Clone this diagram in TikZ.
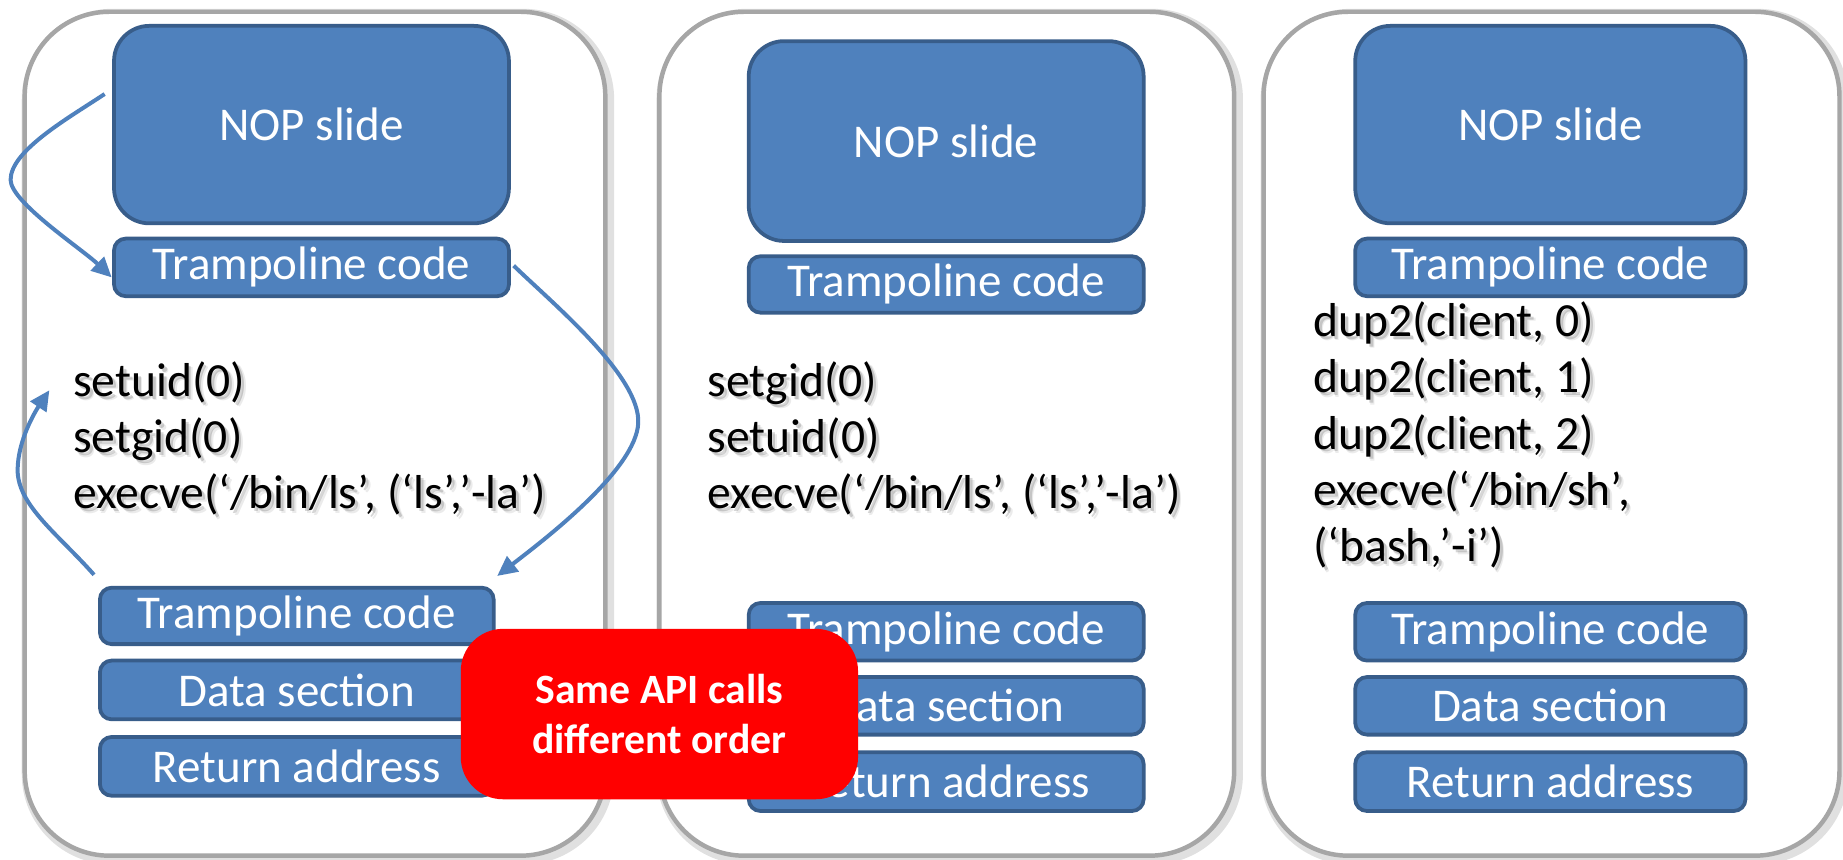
\documentclass[tikz,border=0pt]{standalone}
\usepackage{fontspec}
\setmainfont{Carlito}
\usetikzlibrary{arrows.meta}

\definecolor{blockfill}{HTML}{4F81BD}
\definecolor{blockedge}{HTML}{385D8A}
\definecolor{panelline}{HTML}{A6A6A6}
\definecolor{alertred}{HTML}{FF0000}

\newcommand\mainsize{\fontsize{40}{48}\selectfont}
\newcommand\callsize{\fontsize{40.5}{48}\selectfont}
\newcommand\notesize{\fontsize{35.5}{42}\selectfont\bfseries}

\tikzset{
  panel/.style={draw=panelline, line width=3.8pt, rounded corners=72pt, fill=white,
                inner sep=0pt},
  panelshadow/.style={draw=black!12, line width=10pt, rounded corners=72pt, inner sep=0pt},
  blk/.style={draw=blockedge, fill=blockfill, line width=3.2pt, rounded corners=10pt,
              text=white, font=\mainsize, inner sep=0pt},
  bigblk/.style={blk, rounded corners=30pt},
  calltext/.style={anchor=base west, inner sep=0pt, font=\callsize, text=black},
  callshadow/.style={anchor=base west, inner sep=0pt, font=\callsize, text=black,
                     opacity=0.16},
  flow/.style={draw=blockfill, line width=3.4pt,
               -{Triangle[length=17pt,width=16pt]}},
  note/.style={fill=alertred, rounded corners=36pt, text=white, font=\notesize,
               align=center, inner sep=0pt},
}

% one line of system-call text with a soft drop shadow
\newcommand\callline[4]{%
  \node[callshadow, xshift=2.5pt, yshift=-2.5pt] (#1-s) at (#2,#3) {#4};
  \node[callshadow, xshift=4pt, yshift=-4pt, opacity=0.08] (#1-t) at (#2,#3) {#4};
  \node[calltext] (#1) at (#2,#3) {#4};}

\begin{document}
\begin{tikzpicture}[x=1pt, y=-1pt]
\useasboundingbox (0,0) rectangle (1568,731);

% three memory layouts
\foreach \n/\cx/\w in {1/268/494, 2/805.5/489, 3/1320/490}{
  \node[panelshadow, minimum width=\w pt, minimum height=718pt] (p\n-sh) at (\cx+2.5,371.5) {};
  \node[panel, minimum width=\w pt, minimum height=718pt] (p\n) at (\cx,369) {};
}

% ---- first layout ----
\node[bigblk, minimum width=336pt, minimum height=168pt] (nop1) at (265,106) {NOP slide};
\node[blk, minimum width=336pt, minimum height=49pt] (tra1) at (265,227.5) {Trampoline code};
\callline{c1a}{62}{337}{setuid(0)}
\callline{c1b}{62}{385}{setgid(0)}
\callline{c1c}{62}{433}{execve(‘/bin/ls’, (‘ls’,’-la’)}
\node[blk, minimum width=335pt, minimum height=48pt] (trb1) at (252.5,524) {Trampoline code};
\node[blk, minimum width=335pt, minimum height=50pt] (dat1) at (252.5,587) {Data section};
\node[blk, minimum width=335pt, minimum height=50pt] (ret1) at (252.5,652) {Return address};

% ---- second layout ----
\node[bigblk, minimum width=336pt, minimum height=170pt] (nop2) at (805,120) {NOP slide};
\node[blk, minimum width=336pt, minimum height=48pt] (tra2) at (805,242) {Trampoline code};
\callline{c2a}{602}{337}{setgid(0)}
\callline{c2b}{602}{385}{setuid(0)}
\callline{c2c}{602}{433}{execve(‘/bin/ls’, (‘ls’,’-la’)}
\node[blk, minimum width=336pt, minimum height=49pt] (trb2) at (805,537.5) {Trampoline code};
\node[blk, minimum width=336pt, minimum height=49pt] (dat2) at (805,600.5) {Data section};
\node[blk, minimum width=336pt, minimum height=50pt] (ret2) at (805,665) {Return address};

% ---- third layout ----
\node[bigblk, minimum width=332pt, minimum height=168pt] (nop3) at (1319,106) {NOP slide};
\node[blk, minimum width=332pt, minimum height=49pt] (tra3) at (1319,227.5) {Trampoline code};
\callline{c3a}{1117}{286}{dup2(client, 0)}
\callline{c3b}{1117}{334}{dup2(client, 1)}
\callline{c3c}{1117}{382}{dup2(client, 2)}
\callline{c3d}{1117}{430}{execve(‘/bin/sh’,}
\callline{c3e}{1117}{478}{(‘bash,’-i’)}
\node[blk, minimum width=332pt, minimum height=49pt] (trb3) at (1319,537.5) {Trampoline code};
\node[blk, minimum width=332pt, minimum height=49pt] (dat3) at (1319,600.5) {Data section};
\node[blk, minimum width=332pt, minimum height=50pt] (ret3) at (1319,665) {Return address};

% ---- control flow through the first layout ----
\coordinate (f1s) at (89,80);
\coordinate (f1e) at (95,236);
\coordinate (f2s) at (437,226);
\coordinate (f2e) at (423,490);
\coordinate (f3s) at (80,489);
\coordinate (f3e) at (42,332);
\draw[flow] (f1s) .. controls (59,100) and (9,128) .. (9,153)
                  .. controls (9,172) and (70,212) .. (f1e);
\draw[flow] (f2s) .. controls (470,258) and (545,320) .. (543,360)
                  .. controls (541,400) and (462,460) .. (f2e);
\draw[flow] (f3s) .. controls (50,455) and (15,430) .. (15,400)
                  .. controls (15,375) and (30,350) .. (f3e);

% ---- callout ----
\node[note, minimum width=338pt, minimum height=145pt] (note) at (561,607.5)
  {Same API calls\\different order};
\end{tikzpicture}
\end{document}
